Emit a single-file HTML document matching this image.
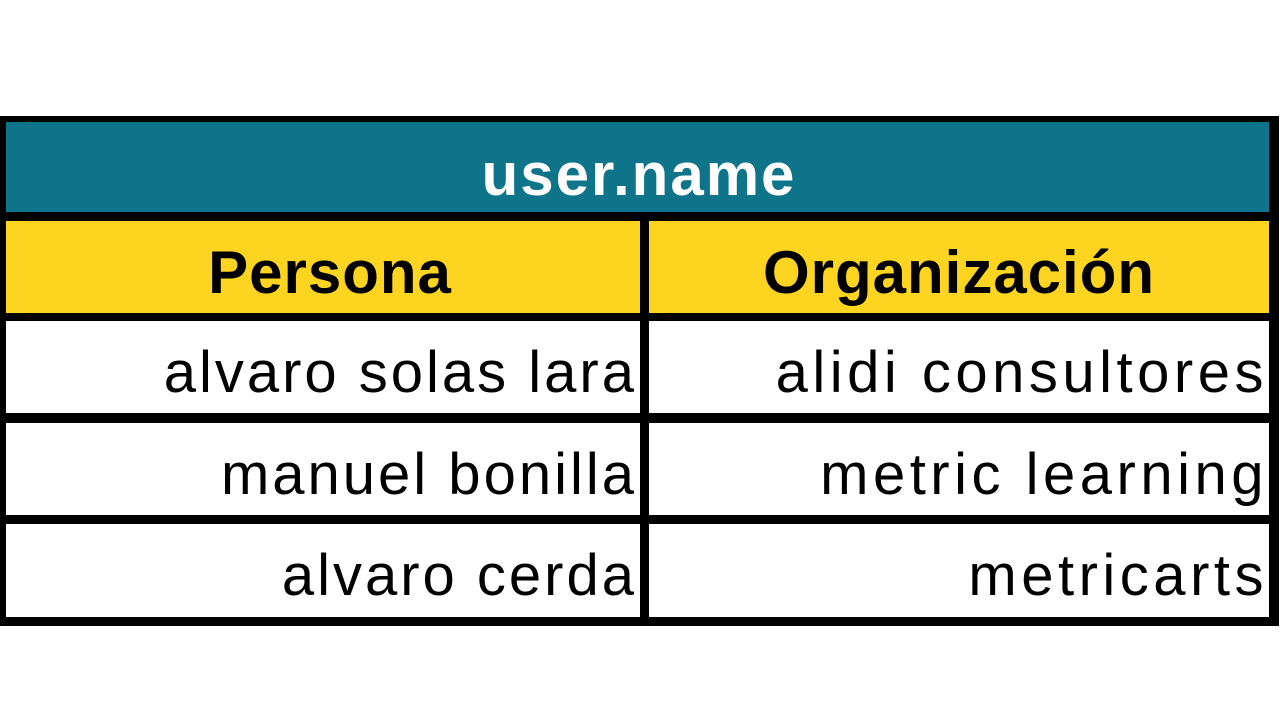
<!DOCTYPE html>
<html><head><style>
body{margin:0;width:1280px;height:720px;background:#fff;position:relative;overflow:hidden;font-family:"Liberation Sans",sans-serif}
div{position:absolute;box-sizing:border-box}
.b{background:#000}
.t{font-size:58px;line-height:1;white-space:nowrap}
.l{letter-spacing:3px}
.r{letter-spacing:4.5px}
.h{font-weight:bold;font-size:60px}
</style></head><body>
<div class="b" style="left:0;top:116px;width:1279px;height:510px"></div>
<div style="left:6px;top:122px;width:1263px;height:90px;background:#0e7489"></div>
<div style="left:6px;top:221px;width:634px;height:92px;background:#fdd420"></div>
<div style="left:649px;top:221px;width:620px;height:92px;background:#fdd420"></div>
<div style="left:6px;top:321px;width:634px;height:92px;background:#fff"></div>
<div style="left:649px;top:321px;width:620px;height:92px;background:#fff"></div>
<div style="left:6px;top:423px;width:634px;height:92px;background:#fff"></div>
<div style="left:649px;top:423px;width:620px;height:92px;background:#fff"></div>
<div style="left:6px;top:524px;width:634px;height:93px;background:#fff"></div>
<div style="left:649px;top:524px;width:620px;height:93px;background:#fff"></div>

<div class="t h" style="left:0;width:1278px;top:145px;text-align:center;color:#fff;letter-spacing:2px">user.name</div>
<div class="t h" style="left:6px;width:648px;top:243px;text-align:center;letter-spacing:1px">Persona</div>
<div class="t h" style="left:649px;width:620px;top:243px;text-align:center;letter-spacing:1px">Organización</div>

<div class="t l" style="right:643px;top:344px">alvaro solas lara</div>
<div class="t r" style="right:12px;top:344px">alidi consultores</div>
<div class="t l" style="right:643px;top:446px">manuel bonilla</div>
<div class="t r" style="right:12px;top:446px">metric learning</div>
<div class="t l" style="right:643px;top:547px">alvaro cerda</div>
<div class="t r" style="right:12px;top:547px">metricarts</div>
</body></html>
